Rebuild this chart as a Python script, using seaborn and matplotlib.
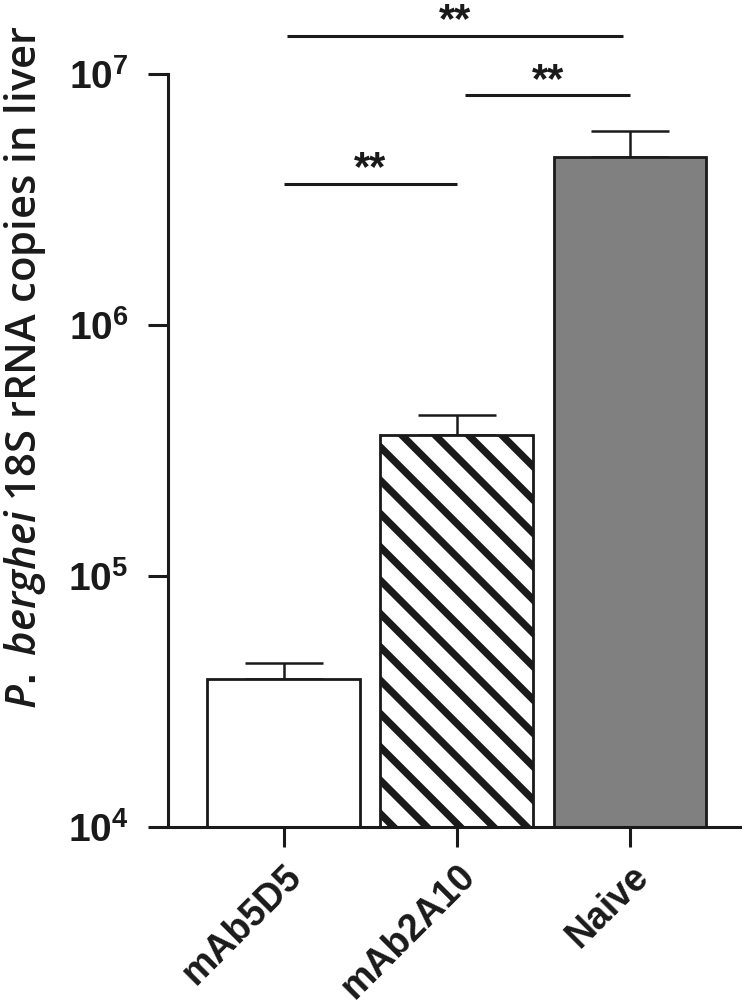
import numpy as np
import pandas as pd
import matplotlib
matplotlib.use("Agg")
import matplotlib.pyplot as plt
from matplotlib.ticker import NullLocator, FixedLocator
import seaborn as sns

# ---------------- data ----------------
groups = ["mAb5D5", "mAb2A10", "Naive"]
means = [3.9e4, 3.65e5, 4.67e6]          # bar heights (18S rRNA copies)
upper = [4.5e4, 4.38e5, 5.93e6]          # mean + SEM (top of error bar)
bar_colors = ["#ffffff", "#ffffff", "#808080"]
bar_hatches = ["", "\\\\", ""]

yticks = [1e4, 1e5, 1e6, 1e7]
ytick_labels = [r"$\mathbf{10^{4}}$", r"$\mathbf{10^{5}}$", r"$\mathbf{10^{6}}$", r"$\mathbf{10^{7}}$"]

cmp_x0 = [0.0, 1.05, 0.02]
cmp_x1 = [1.0, 2.0, 1.96]
cmp_y = [3.65e6, 8.24e6, 1.42e7]
cmp_text = ["**", "**", "**"]

ylabel_text = r"$\mathit{P.}$ $\mathit{berghei}$ 18S rRNA copies in liver"

# ---------------- style ----------------
sns.set_style("ticks")
ink = "#1a1a1a"
plt.rcParams["font.family"] = ["Liberation Sans", "DejaVu Sans"]
plt.rcParams["mathtext.fontset"] = "custom"
plt.rcParams["mathtext.bf"] = "Liberation Sans:bold"
plt.rcParams["mathtext.rm"] = "Liberation Sans:bold"
plt.rcParams["mathtext.it"] = "Open Sans:italic:semibold"
plt.rcParams["hatch.linewidth"] = 2.6
plt.rcParams["hatch.color"] = ink

DPI = 200
fig = plt.figure(figsize=(750 / DPI, 1008 / DPI), dpi=DPI)
ax = fig.add_axes([168 / 750, 1 - 827 / 1008, (740 - 168) / 750, (827 - 74) / 1008])

df = pd.DataFrame({"group": groups, "value": means})
sns.barplot(data=df, x="group", y="value", hue="group", palette=bar_colors,
            order=groups, hue_order=groups, width=0.883, edgecolor=ink,
            linewidth=1.0, legend=False, ax=ax, zorder=2)

for patch, h in zip(ax.patches, bar_hatches):
    patch.set_hatch(h)
    patch.set_edgecolor(ink)

ax.set_yscale("log")
ax.set_ylim(yticks[0], yticks[-1])
ax.set_xlim(-0.667, 2.635)

xpos = np.arange(len(groups))
ax.errorbar(xpos, means, yerr=[np.zeros(len(means)), np.array(upper) - np.array(means)],
            fmt="none", ecolor=ink, elinewidth=0.9, capsize=14.2, capthick=0.9, zorder=1)

ax.yaxis.set_major_locator(FixedLocator(yticks))
ax.yaxis.set_minor_locator(NullLocator())
ax.set_yticklabels(ytick_labels, fontsize=14, color=ink)
ax.set_xticks(xpos)
ax.set_xticklabels(groups, rotation=45, ha="right", rotation_mode="anchor",
                   fontsize=13.5, fontweight="bold", color=ink)

ax.tick_params(axis="y", length=7.2, width=1.1, color=ink, pad=7)
ax.tick_params(axis="x", length=7.2, width=1.1, color=ink, pad=4)
ax.set_xlabel("")
ax.set_ylabel("")
for s in ["top", "right"]:
    ax.spines[s].set_visible(False)
for s in ["left", "bottom"]:
    ax.spines[s].set_linewidth(1.1)
    ax.spines[s].set_color(ink)

# significance brackets
for x0, x1, y, t in zip(cmp_x0, cmp_x1, cmp_y, cmp_text):
    ax.plot([x0, x1], [y, y], color=ink, lw=1.1, clip_on=False, solid_capstyle="butt")
    ax.annotate(t, xy=((x0 + x1) / 2, y), xytext=(0, 1.2), textcoords="offset points",
                ha="center", va="baseline", fontsize=15, fontweight="bold",
                color=ink, annotation_clip=False)

fig.text(25 / 750, 1 - 367 / 1008, ylabel_text, rotation=90, ha="center", va="center",
         rotation_mode="anchor", fontsize=15.1, fontfamily="Open Sans",
         fontweight="semibold", color=ink)

fig.savefig("out.png", dpi=DPI, facecolor="white")
